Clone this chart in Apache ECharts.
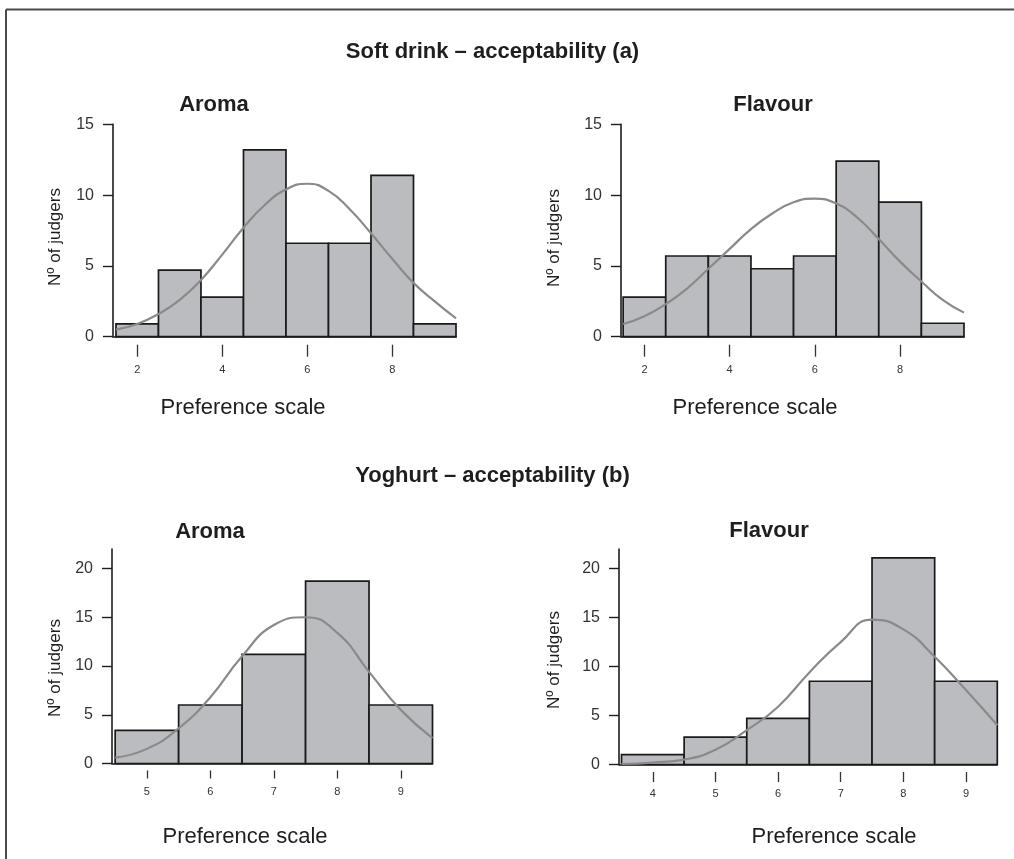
<!DOCTYPE html>
<html>
<head>
<meta charset="utf-8">
<script src="https://cdn.jsdelivr.net/npm/echarts@6/dist/echarts.min.js"></script>
<style>
html,body{margin:0;padding:0;background:#fff;}
#c{width:1014px;height:859px;}
</style>
</head>
<body>
<div id="c"></div>
<script>
// ---- data ----
var sectionTitles = ['Soft drink \u2013 acceptability (a)', 'Yoghurt \u2013 acceptability (b)'];
var panelTitles = ['Aroma', 'Flavour', 'Aroma', 'Flavour'];
var xAxisTitle = 'Preference scale';
var yAxisTitle = 'N\u00ba of judgers';

// histogram bins (bin centre, count)
var softAromaBins = [2, 3, 4, 5, 6, 7, 8, 9];
var softAromaCounts = [0.9, 4.7, 2.8, 13.2, 6.6, 6.6, 11.4, 0.9];
var softFlavourBins = [2, 3, 4, 5, 6, 7, 8, 9];
var softFlavourCounts = [2.8, 5.7, 5.7, 4.8, 5.7, 12.4, 9.5, 0.95];
var yogAromaBins = [5, 6, 7, 8, 9];
var yogAromaCounts = [3.4, 6.0, 11.2, 18.7, 6.0];
var yogFlavourBins = [4, 5, 6, 7, 8, 9];
var yogFlavourCounts = [1.0, 2.8, 4.7, 8.5, 21.1, 8.5];

// fitted curves (x, y)
var softAromaCurveX = [1.5, 2, 2.5, 3, 3.5, 4, 4.5, 5, 5.5, 6, 6.5, 7, 7.5, 8, 8.5, 9, 9.5];
var softAromaCurveY = [0.5, 0.9, 1.6, 2.6, 4.0, 5.8, 7.7, 9.3, 10.4, 10.8, 10.3, 9.0, 7.3, 5.5, 3.8, 2.5, 1.3];
var softFlavourCurveX = [1.5, 2, 2.5, 3, 3.5, 4, 4.5, 5, 5.5, 6, 6.5, 7, 7.5, 8, 8.5, 9, 9.5];
var softFlavourCurveY = [0.9, 1.45, 2.3, 3.4, 4.8, 6.2, 7.6, 8.7, 9.5, 9.75, 9.4, 8.4, 6.9, 5.3, 3.9, 2.6, 1.7];
var yogAromaCurveX = [4.5, 5, 5.5, 6, 6.5, 7, 7.5, 8, 8.5, 9, 9.5];
var yogAromaCurveY = [0.6, 1.5, 3.6, 6.8, 11.0, 14.2, 15.0, 13.4, 9.4, 5.5, 2.6];
var yogFlavourCurveX = [3.5, 4, 4.5, 5, 5.5, 6, 6.5, 7, 7.5, 8, 8.5, 9, 9.5];
var yogFlavourCurveY = [0.05, 0.2, 0.5, 1.5, 3.5, 5.9, 9.4, 12.5, 14.8, 13.8, 11.0, 7.6, 4.0];

var softTicks = [2, 4, 6, 8];
var yogAromaTicks = [5, 6, 7, 8, 9];
var yogFlavourTicks = [4, 5, 6, 7, 8, 9];
var softYTicks = [0, 5, 10, 15];
var yogYTicks = [0, 5, 10, 15, 20];

// ---- layout ----
var FONT = '"Liberation Sans", Arial, Helvetica, sans-serif';
var panels = [
  {bins: softAromaBins, counts: softAromaCounts, cx: softAromaCurveX, cy: softAromaCurveY, ticks: softTicks, yTicks: softYTicks,
   grid: {left: 113, top: 124.3, width: 343, height: 212.4}, xMin: 1.43, xMax: 9.5, yMax: 15,
   tickOff: 8, tickLen: 12, labMargin: 20},
  {bins: softFlavourBins, counts: softFlavourCounts, cx: softFlavourCurveX, cy: softFlavourCurveY, ticks: softTicks, yTicks: softYTicks,
   grid: {left: 621, top: 124.3, width: 343, height: 212.4}, xMin: 1.45, xMax: 9.5, yMax: 15,
   tickOff: 8, tickLen: 12, labMargin: 20},
  {bins: yogAromaBins, counts: yogAromaCounts, cx: yogAromaCurveX, cy: yogAromaCurveY, ticks: yogAromaTicks, yTicks: yogYTicks,
   grid: {left: 112, top: 549, width: 320.5, height: 214.5}, xMin: 4.45, xMax: 9.5, yMax: 22,
   tickOff: 7, tickLen: 8, labMargin: 16},
  {bins: yogFlavourBins, counts: yogFlavourCounts, cx: yogFlavourCurveX, cy: yogFlavourCurveY, ticks: yogFlavourTicks, yTicks: yogYTicks,
   grid: {left: 619, top: 549, width: 378.3, height: 215.5}, xMin: 3.46, xMax: 9.5, yMax: 22,
   tickOff: 7.5, tickLen: 10, labMargin: 16}
];

var grids = [], xAxes = [], yAxes = [], series = [];
panels.forEach(function (p, i) {
  grids.push(Object.assign({containLabel: false}, p.grid));
  // axis line
  xAxes.push({type: 'value', gridIndex: i, min: p.xMin, max: p.xMax, position: 'bottom',
    axisLine: {show: true, onZero: false, lineStyle: {color: '#1e1e1e', width: 1.6}},
    axisTick: {show: false}, axisLabel: {show: false}, splitLine: {show: false}});
  // detached ticks + labels
  xAxes.push({type: 'value', gridIndex: i, min: p.xMin, max: p.xMax, position: 'bottom', offset: p.tickOff,
    axisLine: {show: false, onZero: false},
    axisTick: {show: true, length: p.tickLen, customValues: p.ticks, lineStyle: {color: '#333', width: 1.3}},
    axisLabel: {show: true, customValues: p.ticks, margin: p.labMargin, fontSize: 11, color: '#333', fontFamily: FONT},
    splitLine: {show: false}});
  yAxes.push({type: 'value', gridIndex: i, min: 0, max: p.yMax, interval: 5,
    axisLine: {show: true, lineStyle: {color: '#1e1e1e', width: 1.6}},
    axisTick: {show: true, length: 10, customValues: p.yTicks, lineStyle: {color: '#1e1e1e', width: 1.4}},
    axisLabel: {show: true, customValues: p.yTicks, margin: 19, fontSize: 16, color: '#333', fontFamily: FONT},
    splitLine: {show: false}});
  var bars = p.bins.map(function (b, k) { return [b, p.counts[k]]; });
  series.push({type: 'custom', xAxisIndex: 2 * i, yAxisIndex: i, data: bars, encode: {x: 0, y: 1}, z: 2,
    renderItem: function (params, api) {
      var x = api.value(0), h = api.value(1);
      var a = api.coord([x - 0.5, h]);
      var b = api.coord([x + 0.5, 0]);
      return {type: 'rect', shape: {x: a[0], y: a[1], width: b[0] - a[0], height: b[1] - a[1]},
        style: {fill: '#bbbcc0', stroke: '#1a1a1a', lineWidth: 1.7}};
    }});
  var curve = p.cx.map(function (x, k) { return [x, p.cy[k]]; });
  series.push({type: 'line', xAxisIndex: 2 * i, yAxisIndex: i, data: curve, smooth: 0.5, showSymbol: false,
    symbol: 'none', z: 3, lineStyle: {color: '#8a8a8a', width: 2.2}, silent: true});
});

function txt(x, y, text, size, weight, rot) {
  return {type: 'text', x: x, y: y, rotation: rot || 0, z: 10,
    style: {text: text, fontSize: size, fontWeight: weight || 'normal', fontFamily: FONT, fill: '#1e1e1e',
      textAlign: 'center', textVerticalAlign: 'middle'}};
}

var graphics = [
  {type: 'line', shape: {x1: 6, y1: 9.5, x2: 1014, y2: 9.5}, style: {stroke: '#4a4a4a', lineWidth: 2}},
  {type: 'line', shape: {x1: 6, y1: 9.5, x2: 6, y2: 859}, style: {stroke: '#4a4a4a', lineWidth: 2}},
  txt(492.5, 52, sectionTitles[0], 22, 'bold'),
  txt(492.5, 476, sectionTitles[1], 22, 'bold'),
  txt(214, 104.5, panelTitles[0], 22, 'bold'),
  txt(773, 105, panelTitles[1], 22, 'bold'),
  txt(210, 531.5, panelTitles[2], 22, 'bold'),
  txt(769, 531, panelTitles[3], 22, 'bold'),
  txt(243, 408, xAxisTitle, 22),
  txt(755, 408, xAxisTitle, 22),
  txt(245, 836.5, xAxisTitle, 22),
  txt(834, 836.5, xAxisTitle, 22),
  txt(55, 237, yAxisTitle, 17, 'normal', Math.PI / 2),
  txt(554, 238, yAxisTitle, 17, 'normal', Math.PI / 2),
  txt(55, 668, yAxisTitle, 17, 'normal', Math.PI / 2),
  txt(554, 660, yAxisTitle, 17, 'normal', Math.PI / 2)
];

var chart = echarts.init(document.getElementById('c'), null, {renderer: 'canvas'});
chart.setOption({
  animation: false,
  backgroundColor: '#ffffff',
  grid: grids,
  xAxis: xAxes,
  yAxis: yAxes,
  series: series,
  graphic: graphics
});
</script>
</body>
</html>
